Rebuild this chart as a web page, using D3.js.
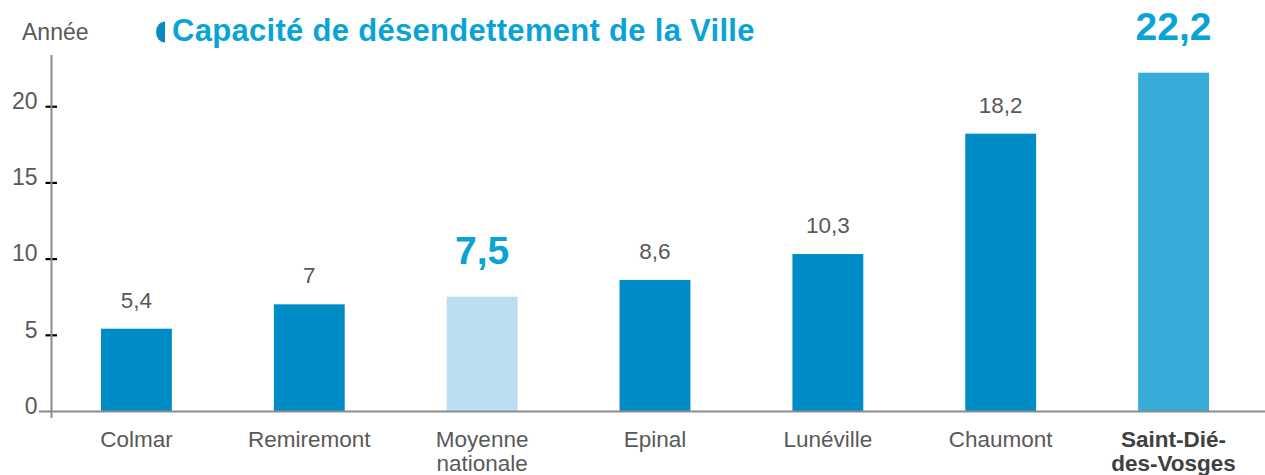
<!DOCTYPE html>
<html><head><meta charset="utf-8">
<script src="https://cdn.jsdelivr.net/npm/d3@7"></script>
<style>
body{margin:0;background:#fff;}
text{font-family:"Liberation Sans",Arial,sans-serif;}
</style></head>
<body><svg id="c" width="1265" height="475"></svg>
<script>
const categories = ["Colmar","Remiremont","Moyenne nationale","Epinal","Lunéville","Chaumont","Saint-Dié-des-Vosges"];
const labelLines = [["Colmar"],["Remiremont"],["Moyenne","nationale"],["Epinal"],["Lunéville"],["Chaumont"],["Saint-Dié-","des-Vosges"]];
const values = [5.4, 7, 7.5, 8.6, 10.3, 18.2, 22.2];
const valueLabels = ["5,4","7","7,5","8,6","10,3","18,2","22,2"];
const highlight = [false,false,true,false,false,false,true];
const yTicks = [0,5,10,15,20];
const title = "Capacité de désendettement de la Ville";
const yTitle = "Année";

const barColors = ["#008cc6","#008cc6","#bbdef0","#008cc6","#008cc6","#008cc6","#37acd9"];
const accent = "#0aa3d6";
const grey = "#595959";

const svg = d3.select("#c");
const x = d3.scaleBand().domain(categories).range([50,1260]).paddingInner(0.59).paddingOuter(0.295);
const y = d3.scaleLinear().domain([0,22.2]).range([411,72.7]);

// bars
svg.selectAll("rect.bar").data(values).join("rect")
  .attr("x",(d,i)=>x(categories[i])).attr("width",x.bandwidth())
  .attr("y",d=>y(d)).attr("height",d=>y(0)-y(d))
  .attr("fill",(d,i)=>barColors[i]);

// baseline
svg.append("line").attr("x1",39).attr("x2",1265).attr("y1",y(0)+0.5).attr("y2",y(0)+0.5)
  .attr("stroke","#8c8c8c").attr("stroke-width",2);

// y axis
const yAxis = d3.axisLeft(y).tickValues(yTicks).tickSize(0).tickPadding(14);
const ga = svg.append("g").attr("transform","translate(51.5,0)").call(yAxis);
ga.select(".domain").remove();
ga.append("line").attr("x1",0).attr("x2",0).attr("y1",55).attr("y2",418)
  .attr("stroke","#8c8c8c").attr("stroke-width",2);
ga.selectAll(".tick").filter(d=>d>0).append("line").attr("x1",-6).attr("x2",5.5)
  .attr("stroke","#000").attr("stroke-width",2.2);
ga.selectAll(".tick text").attr("font-size",23).attr("fill",grey)
  .attr("font-family","Liberation Sans, Arial, sans-serif").attr("dy","0.1em");

svg.append("text").attr("x",22).attr("y",40).attr("font-size",23).attr("fill",grey).text(yTitle);

// title with icon
svg.append("path").attr("d","M165,21.5 A9,10.5 0 0 0 165,42.5 Z").attr("fill","#0a88c6");
svg.append("text").attr("x",172).attr("y",41).attr("font-size",31).attr("font-weight","bold")
  .attr("letter-spacing",0.3)
  .attr("fill",accent).text(title);

// value labels
svg.selectAll("text.val").data(values).join("text").attr("class","val")
  .attr("x",(d,i)=>x(categories[i])+x.bandwidth()/2)
  .attr("y",(d,i)=>y(d)-(highlight[i]?33:21))
  .attr("text-anchor","middle")
  .attr("font-size",(d,i)=>highlight[i]?39:22.5)
  .attr("font-weight",(d,i)=>highlight[i]?"bold":"normal")
  .attr("fill",(d,i)=>highlight[i]?accent:grey)
  .text((d,i)=>valueLabels[i]);

// x labels
const xl = svg.selectAll("text.xl").data(categories).join("text").attr("class","xl")
  .attr("text-anchor","middle").attr("font-size",22.5)
  .attr("font-weight",(d,i)=>i===6?"bold":"normal")
  .attr("fill",(d,i)=>i===6?"#404040":grey);
xl.each(function(d,i){
  const t=d3.select(this);
  labelLines[i].forEach((ln,j)=>{
    t.append("tspan").attr("x",x(d)+x.bandwidth()/2).attr("y",447+j*24).text(ln);
  });
});
</script></body></html>
